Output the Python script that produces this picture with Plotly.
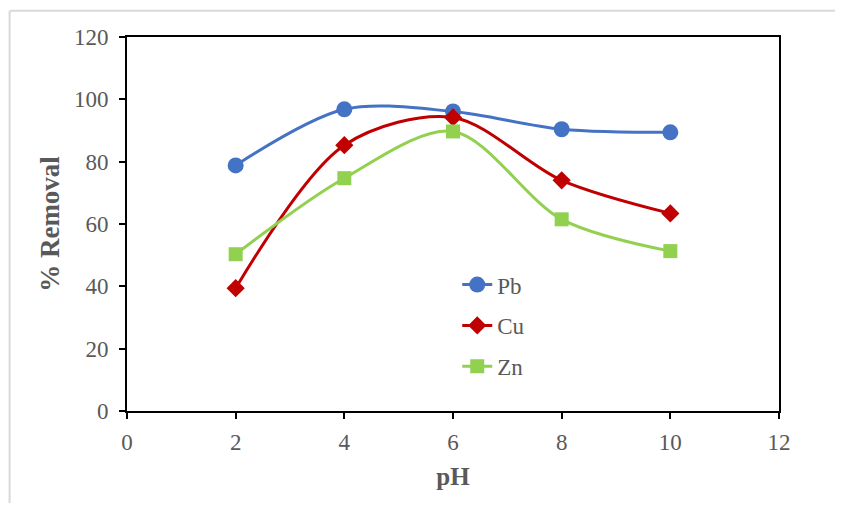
import plotly.graph_objects as go

ph = [2, 4, 6, 8, 10]
pb = [78.8, 96.8, 96.1, 90.4, 89.4]
cu = [39.4, 85.3, 94.2, 74.0, 63.4]
zn = [50.3, 74.7, 89.7, 61.5, 51.3]
x_ticks = [0, 2, 4, 6, 8, 10, 12]
y_ticks = [0, 20, 40, 60, 80, 100, 120]

OFF = 8  # browser body margin
W, H = 827, 495
# target page pixel positions of plot area
L, R, T, B = 126.5, 779, 36.7, 411

fig = go.Figure()
series = [
    ("Pb", pb, "#4472C4", "circle", 16),
    ("Cu", cu, "#C00000", "diamond", 14),
    ("Zn", zn, "#92D050", "square", 14),
]
for name, vals, col, sym, sz in series:
    fig.add_trace(go.Scatter(
        x=ph, y=vals, name=name, mode="lines+markers",
        line=dict(color=col, width=3, shape="spline", smoothing=0.9),
        marker=dict(color=col, symbol=sym, size=sz),
        legendgroup=name,
    ))

def px_x(p):
    return (p - L) / (R - L)

def px_y(p):
    return (B - p) / (B - T)

fig.add_shape(type="line", xref="paper", yref="paper",
              x0=px_x(9), x1=px_x(OFF + W), y0=px_y(10.5), y1=px_y(10.5),
              line=dict(color="#d9d9d9", width=2))
fig.add_shape(type="line", xref="paper", yref="paper",
              x0=px_x(9), x1=px_x(9), y0=px_y(10.5), y1=px_y(OFF + H),
              line=dict(color="#d9d9d9", width=2))

axis_font = dict(family="Liberation Serif", size=23, color="#595959")
title_font = dict(family="Liberation Serif", size=25, color="#595959")
ytitle_font = dict(family="Liberation Serif", size=27, color="#595959")

fig.update_layout(
    width=W, height=H,
    margin=dict(l=L - OFF, r=OFF + W - R, t=T - OFF, b=OFF + H - B, pad=0),
    paper_bgcolor="white", plot_bgcolor="white",
    showlegend=True,
    legend=dict(x=px_x(457), y=px_y(263), xanchor="left", yanchor="top",
                font=dict(family="Liberation Serif", size=23, color="#595959"),
                bgcolor="rgba(0,0,0,0)", traceorder="grouped", tracegroupgap=8),
    xaxis=dict(range=[0, 12], tickvals=x_ticks, ticktext=[str(v) for v in x_ticks],
               showgrid=False, zeroline=False, showline=True, linecolor="black",
               linewidth=2, mirror=True, ticks="outside", ticklen=6, tickwidth=1.5,
               tickcolor="black", tickfont=axis_font, ticklabelstandoff=3,
               title=dict(text="<b>pH</b>", font=title_font, standoff=14)),
    yaxis=dict(range=[0, 120], tickvals=y_ticks, ticktext=[str(v) for v in y_ticks],
               showgrid=False, zeroline=False, showline=True, linecolor="black",
               linewidth=2, mirror=True, ticks="outside", ticklen=6, tickwidth=1.5,
               tickcolor="black", tickfont=axis_font, ticklabelstandoff=6,
               title=dict(text="<b>% Removal</b>", font=ytitle_font, standoff=6)),
)

fig.write_html("out.html")
